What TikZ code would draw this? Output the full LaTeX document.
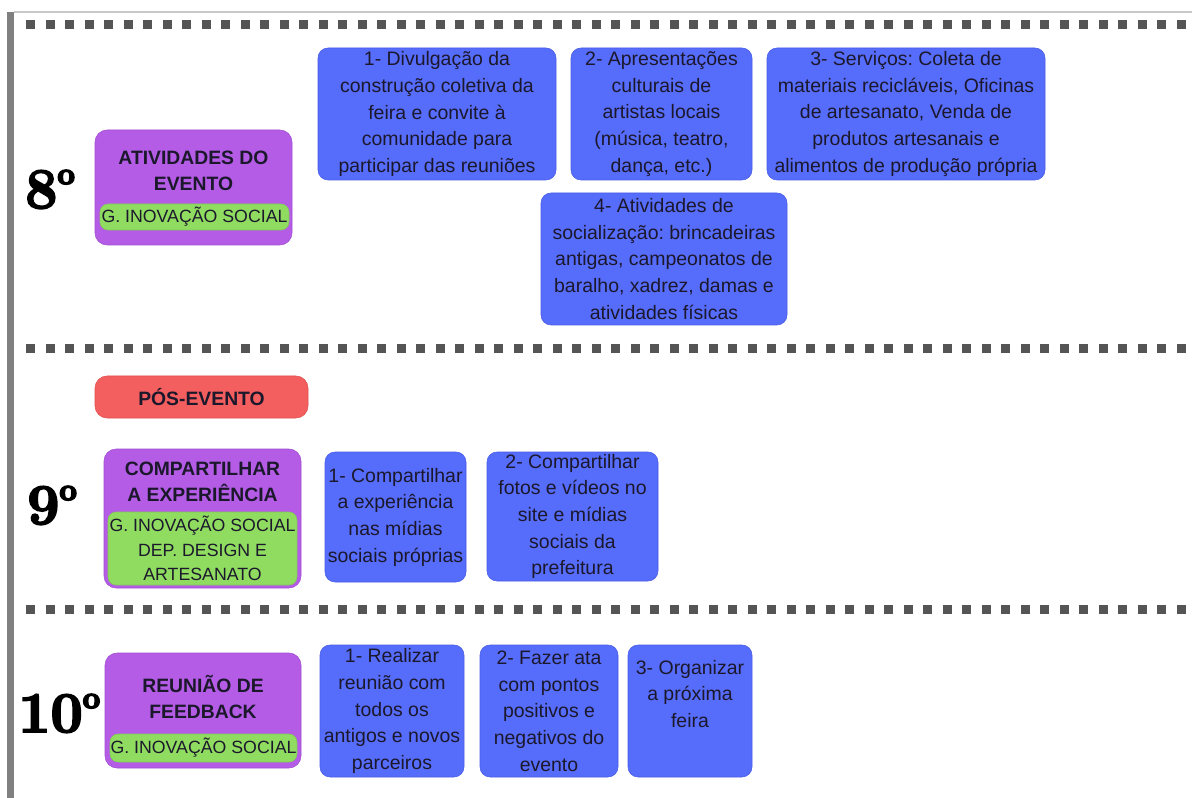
\documentclass[tikz,border=0pt]{standalone}
\usepackage{fontspec}
\setsansfont{Liberation Sans}
\frenchspacing
\definecolor{txt}{RGB}{28,24,44}
\definecolor{bluefill}{RGB}{86,108,250}
\definecolor{blueborder}{RGB}{72,92,230}
\definecolor{purplefill}{RGB}{180,92,230}
\definecolor{purpleborder}{RGB}{160,78,210}
\definecolor{greenfill}{RGB}{143,220,96}
\definecolor{greenborder}{RGB}{128,200,86}
\definecolor{redfill}{RGB}{243,94,94}
\definecolor{redborder}{RGB}{225,80,80}
\definecolor{dashgray}{RGB}{85,85,85}
\definecolor{bargray}{RGB}{128,128,128}
\definecolor{linegray}{RGB}{200,200,200}
\newcommand\heavytext[1]{\special{pdf:literal direct 0 0 0 RG 2 Tr 1.4 w}#1\special{pdf:literal direct 0 Tr}}
\begin{document}
\begin{tikzpicture}[x=0.75pt,y=-0.75pt,
  wh/.style 2 args={minimum width=#1*0.75pt, minimum height=#2*0.75pt},
  bluebox/.style={draw=blueborder, fill=bluefill, rounded corners=7.5pt, align=center, inner sep=0pt, text=txt, font=\sffamily\frenchspacing\fontsize{14.6}{20}\selectfont},
  purplebox/.style={draw=purpleborder, fill=purplefill, rounded corners=9pt, inner sep=0pt},
  greenbox/.style={draw=greenborder, fill=greenfill, rounded corners=6pt, inner sep=0pt, align=center, text=txt, font=\sffamily\fontsize{13.3}{18.4}\selectfont},
  redbox/.style={draw=redborder, fill=redfill, rounded corners=9pt, inner sep=0pt, align=center, text=txt, font=\sffamily\bfseries\fontsize{14.5}{19.5}\selectfont},
  titletext/.style={align=center, inner sep=0pt, text=txt, font=\sffamily\bfseries\fontsize{14.5}{19.5}\selectfont},
  stepnum/.style={anchor=base west, inner sep=0pt, text=black, font=\rmfamily\bfseries\fontsize{43}{43}\selectfont},
  dashsq/.style={fill=dashgray}
]
\useasboundingbox (0,0) rectangle (1192,798);
\fill[white] (0,0) rectangle (1192,798);
% frame
\fill[bargray] (7,12) rectangle (14,798);
\draw[linegray, line width=1pt] (14,12) -- (1192,12);
% dashed separators
\foreach \yy in {20,344,605}{
  \foreach \i in {0,...,59}{
    \fill[dashsq] ({26+19.5*\i},\yy) rectangle ++(9,9);
  }
}
% ---------- 8
\node[stepnum] (n8) at (25,208) {\heavytext{8\raisebox{18pt}{\fontsize{23}{23}\selectfont o}}};
\node[purplebox, wh={197}{115}] (p8) at (193.5,187.5) {};
\node[titletext] (t8) at (193.5,171) {ATIVIDADES DO\\EVENTO};
\node[greenbox, wh={189}{26}] (g8) at (194.5,217) {G. INOVAÇÃO SOCIAL};
\node[bluebox, wh={238}{132}] (a1) at (437,114) {1- Divulgação da\\construção coletiva da\\feira e convite à\\comunidade para\\participar das reuniões};
\node[bluebox, wh={181}{132}] (a2) at (661.5,114) {2- Apresentações\\culturais de\\artistas locais\\(música, teatro,\\dança, etc.)};
\node[bluebox, wh={278}{132}] (a3) at (906,114) {3- Serviços: Coleta de\\materiais recicláveis, Oficinas\\de artesanato, Venda de\\produtos artesanais e\\alimentos de produção própria};
\node[bluebox, wh={246}{132}] (a4) at (664,259) {4- Atividades de\\socialização: brincadeiras\\antigas, campeonatos de\\baralho, xadrez, damas e\\atividades físicas};
% ---------- 9
\node[redbox, wh={213}{42}] (r9) at (201.5,397) {PÓS-EVENTO};
\node[stepnum] (n9) at (27,524) {\heavytext{9\raisebox{18pt}{\fontsize{23}{23}\selectfont o}}};
\node[purplebox, wh={197}{139}] (p9) at (202.5,518.5) {};
\node[titletext] (t9) at (202.5,482) {COMPARTILHAR\\A EXPERIÊNCIA};
\node[greenbox, wh={189}{73}] (g9) at (202.5,548.5) {G. INOVAÇÃO SOCIAL\\DEP. DESIGN E\\ARTESANATO};
\node[bluebox, wh={141}{130}] (c1) at (395.5,517) {1- Compartilhar\\a experiência\\nas mídias\\sociais próprias};
\node[bluebox, wh={171}{129}] (c2) at (572.5,516.5) {2- Compartilhar\\fotos e vídeos no\\site e mídias\\sociais da\\prefeitura};
% ---------- 10
\node[stepnum] (n10) at (18,732) {\heavytext{10\raisebox{18pt}{\fontsize{23}{23}\selectfont o}}};
\node[purplebox, wh={196}{115}] (p10) at (203,710.5) {};
\node[titletext] (t10) at (203,697) {REUNIÃO DE\\FEEDBACK};
\node[greenbox, wh={187}{28}] (g10) at (203.5,748) {G. INOVAÇÃO SOCIAL};
\node[bluebox, wh={144}{132}] (d1) at (392,711) {1- Realizar\\reunião com\\todos os\\antigos e novos\\parceiros};
\node[bluebox, wh={138}{132}] (d2) at (549,711) {2- Fazer ata\\com pontos\\positivos e\\negativos do\\evento};
\node[bluebox, wh={124}{132}] (d3) at (690,711) {3- Organizar\\a próxima\\feira\\\strut};
\end{tikzpicture}
\end{document}
